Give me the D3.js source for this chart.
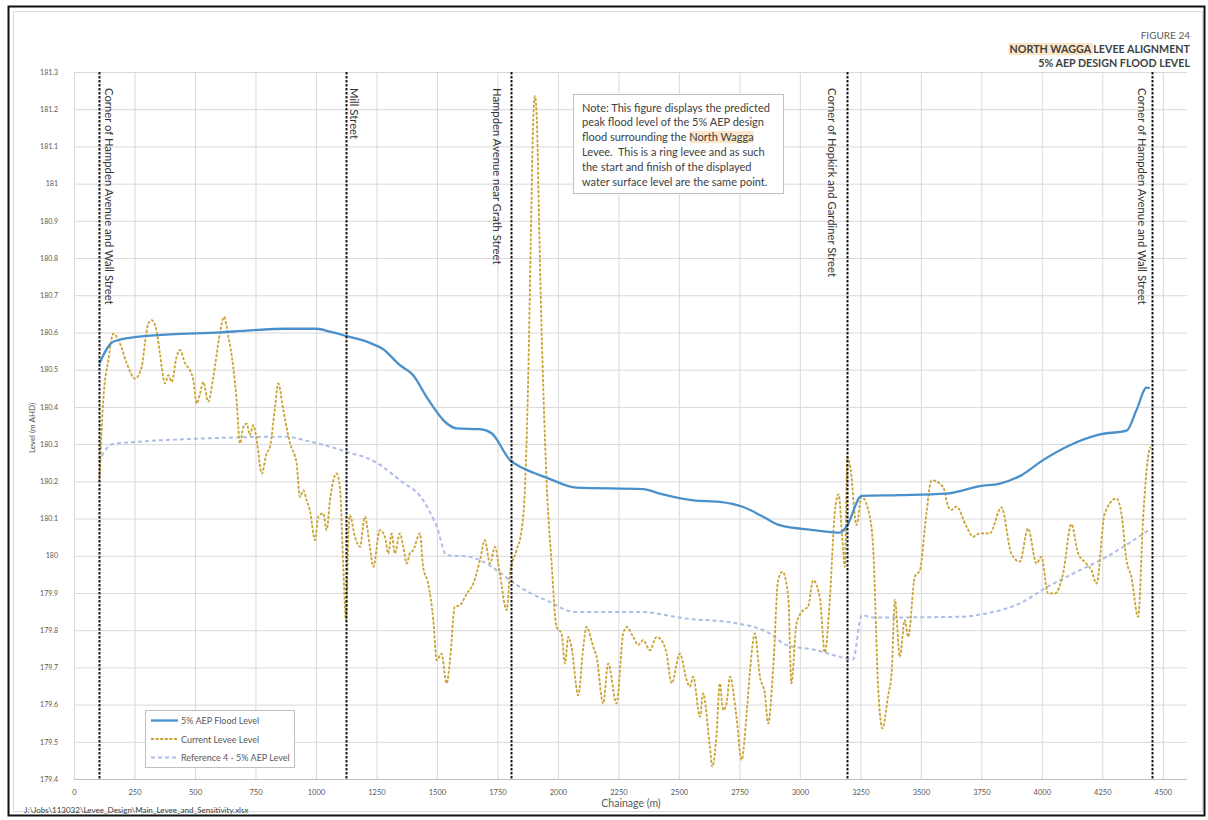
<!DOCTYPE html>
<html><head><meta charset="utf-8">
<script src="https://cdn.jsdelivr.net/npm/d3@7"></script>
<style>
html,body{margin:0;padding:0;background:#fff;}
text{font-family:Lato,"Open Sans",sans-serif;}
</style></head>
<body>
<svg id="chart" width="1208" height="820"></svg>
<script>
// ---------- DATA ----------
const xTicks = [0,250,500,750,1000,1250,1500,1750,2000,2250,2500,2750,3000,3250,3500,3750,4000,4250,4500];
const yTicks = [179.4,179.5,179.6,179.7,179.8,179.9,180,180.1,180.2,180.3,180.4,180.5,180.6,180.7,180.8,180.9,181,181.1,181.2,181.3];
const yTickLabels = ["179.4","179.5","179.6","179.7","179.8","179.9","180","180.1","180.2","180.3","180.4","180.5","180.6","180.7","180.8","180.9","181","181.1","181.2","181.3"];

const floodChainage = [105,162,259,397,603,714,879,1003,1058,1127,1223,1278,1347,1402,1457,1540,1581,1678,1726,1802,1857,1953,2077,2352,2421,2559,2669,2766,2848,2917,3055,3165,3193,3255,3413,3606,3744,3826,3909,4005,4116,4240,4350,4391,4433,4446];
const floodLevel = [180.517,180.575,180.588,180.595,180.600,180.605,180.610,180.610,180.602,180.590,180.572,180.555,180.512,180.485,180.427,180.356,180.342,180.340,180.329,180.257,180.235,180.210,180.183,180.179,180.167,180.149,180.145,180.131,180.105,180.082,180.069,180.062,180.078,180.161,180.163,180.167,180.187,180.194,180.214,180.257,180.297,180.326,180.336,180.391,180.452,180.450];

const refChainage = [105,114,162,259,534,879,948,1058,1127,1237,1347,1443,1499,1540,1636,1678,1747,1802,1884,1953,2070,2339,2532,2724,2876,2945,3055,3193,3220,3255,3303,3661,3771,3909,4019,4129,4267,4405,4446];
const refLevel = [180.250,180.266,180.300,180.306,180.315,180.320,180.311,180.293,180.279,180.255,180.203,180.149,180.078,180.002,179.997,179.988,179.961,179.934,179.900,179.880,179.849,179.849,179.831,179.820,179.791,179.760,179.748,179.724,179.721,179.840,179.834,179.836,179.845,179.872,179.915,179.952,179.997,180.053,180.071];

const leveeChainage = [105,121,142,163,190,218,252,280,293,307,321,342,355,376,390,404,424,438,459,479,493,507,521,534,555,576,603,620,638,658,672,686,700,714,727,741,755,776,796,810,831,844,865,893,920,934,948,961,975,996,1010,1030,1044,1058,1072,1085,1099,1113,1124,1134,1140,1161,1182,1202,1223,1237,1264,1285,1299,1313,1326,1347,1361,1375,1388,1402,1430,1443,1464,1485,1499,1519,1540,1554,1574,1595,1623,1650,1678,1698,1719,1740,1760,1788,1802,1829,1850,1865,1877,1888,1897,1905,1913,1922,1932,1941,1953,1974,1994,2015,2029,2043,2056,2084,2105,2118,2146,2160,2187,2208,2242,2270,2284,2311,2332,2353,2380,2408,2428,2449,2470,2504,2532,2545,2559,2587,2600,2628,2638,2656,2669,2683,2697,2711,2738,2759,2780,2793,2814,2835,2855,2869,2890,2910,2928,2952,2965,2986,3014,3034,3055,3083,3103,3124,3144,3160,3175,3186,3196,3210,3234,3255,3289,3303,3324,3341,3365,3379,3393,3413,3434,3448,3475,3496,3523,3544,3592,3613,3627,3647,3689,3716,3744,3785,3833,3874,3909,3943,3978,3998,4026,4054,4088,4122,4150,4184,4205,4226,4260,4308,4329,4350,4370,4398,4419,4439,4449];
const leveeLevel = [180.199,180.418,180.526,180.597,180.570,180.517,180.476,180.508,180.571,180.624,180.633,180.602,180.544,180.463,180.485,180.467,180.535,180.553,180.517,180.499,180.472,180.409,180.436,180.467,180.414,180.481,180.597,180.642,180.588,180.508,180.418,180.302,180.346,180.355,180.324,180.351,180.311,180.221,180.275,180.293,180.400,180.463,180.391,180.302,180.248,180.158,180.176,180.149,180.122,180.042,180.105,180.114,180.069,180.149,180.203,180.221,180.185,179.970,179.827,180.060,180.109,180.051,180.024,180.105,180.024,179.970,180.069,180.051,180.006,180.060,180.006,180.060,180.024,179.979,180.006,180.015,180.060,179.970,179.925,179.827,179.719,179.737,179.657,179.719,179.863,179.867,179.898,179.925,179.988,180.042,179.979,180.024,179.952,179.854,179.952,180.015,180.069,180.200,180.470,180.850,181.150,181.235,181.170,180.900,180.620,180.420,180.203,179.979,179.809,179.791,179.710,179.782,179.755,179.625,179.755,179.809,179.755,179.728,179.603,179.710,179.603,179.791,179.809,179.782,179.760,179.773,179.746,179.782,179.773,179.737,179.657,179.737,179.666,179.648,179.675,179.567,179.630,179.486,179.433,179.522,179.657,179.585,179.603,179.675,179.567,179.451,179.576,179.684,179.791,179.675,179.630,179.549,179.701,179.934,179.957,179.890,179.657,179.818,179.854,179.863,179.934,179.885,179.740,179.885,180.114,180.165,180.050,179.970,180.265,180.230,180.082,180.158,180.105,180.020,179.640,179.536,179.625,179.684,179.881,179.728,179.827,179.782,179.943,179.961,180.114,180.203,180.185,180.132,180.123,180.132,180.078,180.051,180.060,180.060,180.130,180.006,179.984,180.073,179.979,179.997,179.899,179.899,179.952,180.085,180.006,179.979,179.961,179.925,180.114,180.154,180.114,179.988,179.943,179.836,180.105,180.266,180.293];

const markerChainage = [103,1124,1806,3194,4455];
const markerLabels = ["Corner of Hampden Avenue and Wall Street","Mill Street","Hampden Avenue near Grath Street","Corner of Hopkirk and Gardiner Street","Corner of Hampden Avenue and Wall Street"];

const seriesNames = ["5% AEP Flood Level","Current Levee Level","Reference 4 - 5% AEP Level"];
const noteLines = ["Note: This figure displays the predicted","peak flood level of the 5% AEP design","flood surrounding the |North Wagga|","Levee.  This is a ring levee and as such","the start and finish of the displayed","water surface level are the same point."];

// ---------- DRAW ----------
const svg = d3.select("#chart");
const X0=74, X1=1187, Y0=72, Y1=779;
const x = d3.scaleLinear().domain([0,4600]).range([X0,X1]);
const y = d3.scaleLinear().domain([179.4,181.3]).range([Y1,Y0]);
const labelOffset = [10,8,-14,-15,-10];

svg.append("rect").attr("width",1208).attr("height",820).attr("fill","#fff");
// outer frame
svg.append("rect").attr("x",8.5).attr("y",6.5).attr("width",1196).attr("height",809)
  .attr("fill","none").attr("stroke","#111").attr("stroke-width",2);
svg.append("rect").attr("x",13.5).attr("y",11.5).attr("width",1189).attr("height",800)
  .attr("fill","none").attr("stroke","#d9d9d9").attr("stroke-width",1);

// grid via axes
const gx = svg.append("g").attr("transform",`translate(0,${Y1})`)
  .call(d3.axisBottom(x).tickValues(xTicks).tickSize(-(Y1-Y0)).tickPadding(11).tickFormat(d3.format("d")));
gx.select(".domain").remove();
gx.selectAll(".tick line").attr("stroke","#d9d9d9").attr("stroke-width",1);
gx.selectAll(".tick text").attr("fill","#595959").style("font-size","7.5px").style("font-family","Lato");

const gy = svg.append("g").attr("transform",`translate(${X0},0)`)
  .call(d3.axisLeft(y).tickValues(yTicks).tickSize(-(X1-X0)).tickPadding(16).tickFormat((d,i)=>yTickLabels[i]));
gy.select(".domain").remove();
gy.selectAll(".tick line").attr("stroke","#d9d9d9").attr("stroke-width",1);
gy.selectAll(".tick text").attr("fill","#595959").style("font-size","7px").style("font-family","Lato");
// bottom axis line
svg.append("line").attr("x1",X0).attr("x2",X1).attr("y1",Y1+0.5).attr("y2",Y1+0.5).attr("stroke","#bfbfbf").attr("stroke-width",1);

// axis titles
svg.append("text").attr("transform",`translate(32,428) rotate(-90)`).attr("text-anchor","middle")
  .attr("dominant-baseline","central").attr("fill","#595959").style("font-size","8px").text("Level (m AHD)");
svg.append("text").attr("x",631).attr("y",807).attr("text-anchor","middle").attr("fill","#595959")
  .style("font-size","10.5px").text("Chainage (m)");
svg.append("text").attr("x",24).attr("y",812.5).attr("fill","#404040").style("font-size","8px")
  .text("J:\\Jobs\\113032\\Levee_Design\\Main_Levee_and_Sensitivity.xlsx");

// series
const line = d3.line().x(d=>x(d[0])).y(d=>y(d[1])).curve(d3.curveMonotoneX);
const refData = refChainage.map((c,i)=>[c,refLevel[i]]);
const leveeData = leveeChainage.map((c,i)=>[c,leveeLevel[i]]);
const floodData = floodChainage.map((c,i)=>[c,floodLevel[i]]);

svg.append("path").datum(refData).attr("d",line).attr("fill","none")
  .attr("stroke","#aebde6").attr("stroke-width",2).attr("stroke-dasharray","4,3");
svg.append("path").datum(leveeData).attr("d",line).attr("fill","none")
  .attr("stroke","#c9a332").attr("stroke-width",1.8).attr("stroke-dasharray","3,1.6");
svg.append("path").datum(floodData).attr("d",line).attr("fill","none")
  .attr("stroke","#4a90cb").attr("stroke-width",2.3);

// markers
markerChainage.forEach((c,i)=>{
  const px = Math.round(x(c))+0.5;
  svg.append("line").attr("x1",px).attr("x2",px).attr("y1",Y0).attr("y2",Y1)
    .attr("stroke","#1a1a1a").attr("stroke-width",2).attr("stroke-dasharray","2.5,1.5");
  svg.append("text").attr("transform",`translate(${px+labelOffset[i]},88) rotate(90)`)
    .attr("dominant-baseline","central").attr("fill","#333").style("font-size","11.3px").text(markerLabels[i]);
});

// note box
svg.append("rect").attr("x",573.5).attr("y",94.5).attr("width",210).attr("height",99)
  .attr("fill","#fff").attr("stroke","#bfbfbf").attr("stroke-width",1);
const hlLayer = svg.append("g");
noteLines.forEach((ln,i)=>{
  const t = svg.append("text").attr("x",582).attr("y",111.5+i*14.8).attr("fill","#404040")
    .style("font-size","11px").style("white-space","pre");
  ln.split("|").forEach((p,j)=>{
    const ts = t.append("tspan").text(p);
    if(j===1) ts.attr("class","hl");
  });
});

// legend
svg.append("rect").attr("x",145.5).attr("y",710.5).attr("width",149).attr("height",57)
  .attr("fill","#fff").attr("stroke","#bfbfbf");
const legStyles = [
  {stroke:"#4a90cb",w:2.3,dash:null},
  {stroke:"#c9a332",w:1.8,dash:"3,1.6"},
  {stroke:"#aebde6",w:2,dash:"4,3"}];
seriesNames.forEach((n,i)=>{
  const yy = 720.5+i*18.5;
  const l = svg.append("line").attr("x1",151).attr("x2",178).attr("y1",yy).attr("y2",yy)
    .attr("stroke",legStyles[i].stroke).attr("stroke-width",legStyles[i].w);
  if(legStyles[i].dash) l.attr("stroke-dasharray",legStyles[i].dash);
  svg.append("text").attr("x",181).attr("y",yy).attr("dominant-baseline","central")
    .attr("fill","#595959").style("font-size","9px").text(n);
});

// title block
svg.append("text").attr("x",1190).attr("y",38.5).attr("text-anchor","end").attr("fill","#595959")
  .style("font-size","10px").text("FIGURE 24");
const t2 = svg.append("text").attr("x",1190).attr("y",53).attr("text-anchor","end").attr("fill","#404040")
  .style("font-size","10.7px").style("font-weight","bold");
t2.append("tspan").attr("class","hl2").text("NORTH WAGGA");
t2.append("tspan").text(" LEVEE ALIGNMENT");
svg.append("text").attr("x",1190).attr("y",66.5).attr("text-anchor","end").attr("fill","#404040")
  .style("font-size","10.7px").style("font-weight","bold").text("5% AEP DESIGN FLOOD LEVEL");

// highlights behind "North Wagga" words
[["tspan.hl",0],["tspan.hl2",1]].forEach(([sel,pad])=>{
  const n = svg.select(sel).node();
  if(!n) return;
  const b = n.getBBox();
  hlLayer.append("rect").attr("x",b.x-pad).attr("y",b.y+1).attr("width",b.width+2*pad)
    .attr("height",b.height-1).attr("fill","#fce6c8");
});
</script>
</body></html>
